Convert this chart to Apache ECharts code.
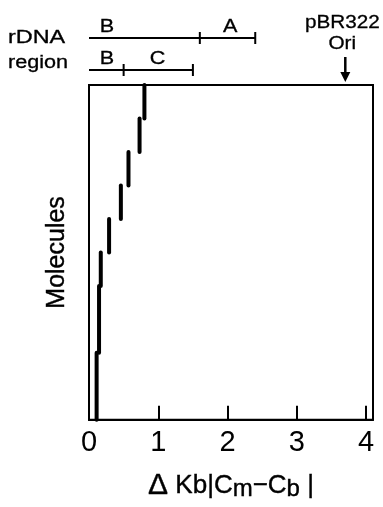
<!DOCTYPE html>
<html>
<head>
<meta charset="utf-8">
<script src="https://cdn.jsdelivr.net/npm/echarts@6/dist/echarts.min.js"></script>
<style>html,body{margin:0;padding:0;background:#fff;}#c{width:383px;height:507px;}</style>
</head>
<body>
<div id="c"></div>
<script>
// Staircase segments (x in Kb, y in molecules)
const segX    = [0.11, 0.145, 0.17, 0.29, 0.46, 0.57, 0.73, 0.80];
const segFrom = [0, 2, 4, 5, 6, 7, 8, 9];
const segTo   = [2, 4, 5, 6, 7, 8, 9, 10];

// rDNA region bars
const regionRow    = [0, 0, 1, 1];
const regionStart  = [0, 1.6, 0, 0.5];
const regionEnd    = [1.6, 2.4, 0.5, 1.5];
const regionLabels = ['B', 'A', 'B', 'C'];
const regionLabelX = [0.26, 2.04, 0.26, 0.99];

// pBR322 origin
const oriX = [3.7];
const oriLabel = ['pBR322', 'Ori'];

const xTicks = [0, 1, 2, 3, 4];
const FONT = 'Liberation Sans, Arial, sans-serif';

const chart = echarts.init(document.getElementById('c'), null, {renderer: 'canvas'});

const segData = segX.map((x, i) => [x, segFrom[i], segTo[i]]);
const regionData = regionStart.map((s, i) => [s, regionEnd[i], regionRow[i], regionLabelX[i]]);

const heavy = {stroke: '#000', lineWidth: 0.3};

const option = {
  backgroundColor: '#fff',
  animation: false,
  graphic: [
    {type: 'text', x: 8, y: 38, scaleX: 1.3, style: Object.assign({text: 'rDNA', font: '18px ' + FONT, fill: '#000', verticalAlign: 'middle'}, heavy)},
    {type: 'text', x: 8, y: 63, scaleX: 1.2, style: Object.assign({text: 'region', font: '18px ' + FONT, fill: '#000', verticalAlign: 'middle'}, heavy)}
  ],
  grid: [
    {left: 89, right: 10, top: 85, bottom: 83, show: true, borderColor: '#000', borderWidth: 2, backgroundColor: 'transparent'},
    {left: 89, right: 10, top: 38, height: 32, show: false}
  ],
  xAxis: [
    {
      type: 'value', gridIndex: 0, min: 0, max: 4.1, interval: 1,
      axisLine: {show: true, lineStyle: {color: '#000', width: 2}},
      axisTick: {show: true, inside: true, length: 14, lineStyle: {color: '#000', width: 2}},
      axisLabel: {show: true, color: '#000', fontSize: 29, fontFamily: FONT, margin: 9, showMaxLabel: false,
        formatter: v => xTicks.indexOf(v) >= 0 ? String(v) : ''},
      splitLine: {show: false},
      name: '{t|Δ} Kb|C{s|m}−C{s|b} |',
      nameLocation: 'middle', nameGap: 50,
      nameTextStyle: {color: '#000', fontSize: 26, fontFamily: FONT, textBorderColor: '#000', textBorderWidth: 0.4,
        rich: {t: {fontSize: 30, color: '#000', fontFamily: FONT, textBorderColor: '#000', textBorderWidth: 0.4},
               s: {fontSize: 24, color: '#000', fontFamily: FONT, padding: [8, 0, 0, 0], textBorderColor: '#000', textBorderWidth: 0.4}}}
    },
    {type: 'value', gridIndex: 1, min: 0, max: 4.1, show: false}
  ],
  yAxis: [
    {
      type: 'value', gridIndex: 0, min: 0, max: 10,
      axisLine: {show: true, lineStyle: {color: '#000', width: 2}},
      axisTick: {show: false}, axisLabel: {show: false}, splitLine: {show: false},
      name: 'Molecules', nameLocation: 'middle', nameGap: 19, nameRotate: 90,
      nameTextStyle: {color: '#000', fontSize: 25, fontFamily: FONT, textBorderColor: '#000', textBorderWidth: 0.4}
    },
    {type: 'value', gridIndex: 1, min: 0, max: 1, inverse: true, show: false}
  ],
  series: [
    {
      type: 'custom', xAxisIndex: 0, yAxisIndex: 0, data: segData, clip: false,
      renderItem: function (params, api) {
        const a = api.coord([api.value(0), api.value(1)]);
        const b = api.coord([api.value(0), api.value(2)]);
        return {type: 'line', shape: {x1: a[0], y1: a[1], x2: b[0], y2: b[1]},
          style: {stroke: '#000', lineWidth: 4, lineCap: 'round'}};
      }
    },
    {
      type: 'custom', xAxisIndex: 1, yAxisIndex: 1, data: regionData, clip: false,
      renderItem: function (params, api) {
        const s = api.coord([api.value(0), api.value(2)]);
        const e = api.coord([api.value(1), api.value(2)]);
        const l = api.coord([api.value(3), api.value(2)]);
        return {type: 'group', children: [
          {type: 'line', shape: {x1: s[0], y1: s[1], x2: e[0], y2: e[1]}, style: {stroke: '#000', lineWidth: 2}},
          {type: 'line', shape: {x1: e[0], y1: e[1] - 6, x2: e[0], y2: e[1] + 6}, style: {stroke: '#000', lineWidth: 2}},
          {type: 'text', x: l[0], y: s[1] - 11, scaleX: 1.2, style: Object.assign({text: regionLabels[params.dataIndex], font: '18px ' + FONT,
            fill: '#000', align: 'center', verticalAlign: 'middle'}, heavy)}
        ]};
      }
    },
    {
      type: 'custom', xAxisIndex: 1, yAxisIndex: 1, data: oriX.map(x => [x, 1]), clip: false,
      renderItem: function (params, api) {
        const p = api.coord([api.value(0), api.value(1)]);
        const x = p[0], y = p[1];
        return {type: 'group', children: [
          {type: 'line', shape: {x1: x, y1: y - 13, x2: x, y2: y + 4}, style: {stroke: '#000', lineWidth: 2.5}},
          {type: 'polygon', shape: {points: [[x - 5, y + 2], [x + 5, y + 2], [x, y + 12]]}, style: {fill: '#000'}},
          {type: 'text', x: x - 3, y: y - 47, scaleX: 1.15, style: Object.assign({text: oriLabel[0], font: '18px ' + FONT, fill: '#000', align: 'center', verticalAlign: 'middle'}, heavy)},
          {type: 'text', x: x - 3, y: y - 26, scaleX: 1.15, style: Object.assign({text: oriLabel[1], font: '18px ' + FONT, fill: '#000', align: 'center', verticalAlign: 'middle'}, heavy)}
        ]};
      }
    }
  ]
};
chart.setOption(option);
</script>
</body>
</html>
